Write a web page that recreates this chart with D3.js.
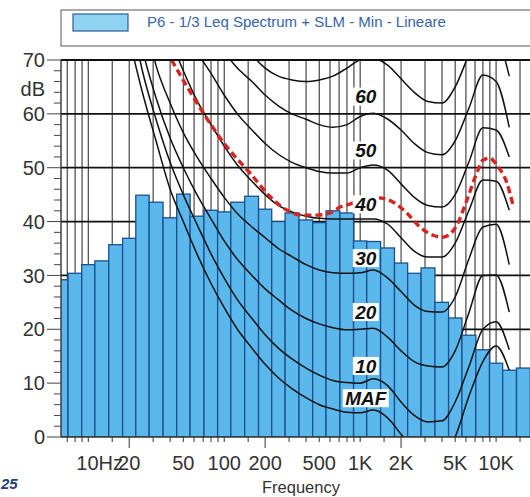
<!DOCTYPE html>
<meta charset="utf-8">
<style>
body { margin: 0; background: #fff; }
text { font-family: Arial, "Liberation Sans", sans-serif; }
</style>
<svg width="530" height="497"></svg>
<script src="https://d3js.org/d3.v7.min.js"></script>
<script>

// 1/3 octave bands (Hz) and measured Leq (dB)
var bands = [6.3, 8, 10, 12.5, 16, 20, 25, 31.5, 40, 50, 63, 80, 100, 125, 160, 200, 250, 315,
  400, 500, 630, 800, 1000, 1250, 1600, 2000, 2500, 3150, 4000, 5000, 6300, 8000, 10000, 12500, 16000, 20000];
var leq = [29.2, 30.4, 32.0, 32.7, 35.7, 36.9, 44.9, 43.6, 40.7, 45.1, 41.0, 42.1, 41.8, 43.6, 44.7, 42.3, 40.0, 41.6,
  40.3, 39.8, 42.0, 41.6, 36.4, 36.3, 35.1, 32.3, 30.4, 31.4, 25.0, 22.1, 18.9, 16.2, 13.7, 12.4, 12.8, 12.5];

// equal loudness contours
var isoFreq = [20, 25, 31.5, 40, 50, 63, 80, 100, 125, 160, 200, 250, 315, 400, 500, 630, 800, 1000,
  1250, 1600, 2000, 2500, 3150, 4000, 5000, 6300, 8000, 10000, 12500];
var contourNames = ["MAF", "10", "20", "30", "40", "50", "60", "70"];
var contourMAF = [74, 64, 55, 46, 40, 34, 28.5, 24, 20, 16.5, 13.5, 11, 9, 7.3, 6, 5.2, 4.6, 4.5, 5, 3.5, 0.5, -2.5, -4.5, -4, 0, 7.5, 14, 16.9, 12.4];
var contour10 = [80, 68, 59, 51, 45, 39.5, 34, 29.5, 25.5, 22, 19, 16.5, 14.5, 12.8, 11.5, 10.5, 10.1, 10, 10.8, 9.5, 6.5, 4, 2.8, 3, 6.5, 13, 20, 21.4, 16.2];
var contour20 = [84, 72, 63, 55.5, 50, 45, 40.5, 36.4, 33, 30, 27.5, 25.5, 23.5, 22, 21, 20.3, 19.9, 20, 20.2, 18.5, 16, 14, 13.2, 13, 16, 23, 30, 30.1, 23.2];
var contour30 = [90, 80, 69, 62, 56.5, 52, 48, 44.5, 41.5, 39, 37, 35, 33.5, 32, 31, 30.5, 30.4, 30.5, 31, 29.5, 27, 24.5, 23.3, 23.2, 26, 33, 39, 39.5, 32];
var contour40 = [96, 86, 80, 74, 68, 62.5, 58, 54, 50.5, 47.5, 45, 43, 41.8, 41, 40.6, 40.5, 40.5, 40.5, 40.5, 39.5, 37, 34.5, 33.4, 33.4, 36, 42, 47.7, 47.5, 42.1];
var contour50 = [102, 94, 87, 81, 76, 71.5, 67.5, 63.5, 60, 57, 54.5, 52.5, 51, 50, 49.3, 49, 49, 50, 50.5, 49.5, 47, 44.5, 43, 42.7, 45, 51, 57.4, 57, 52];
var contour60 = [108, 100, 94, 88, 83, 79, 75, 71.5, 68.5, 66, 63.5, 61.5, 60, 59, 58, 57.5, 58, 59.5, 60.1, 59, 57, 54.5, 52.8, 52.4, 55, 61, 67.2, 66, 57.5];
var contour70 = [115, 110, 104, 99, 94, 89.5, 84, 79, 75, 71, 68.5, 67, 66.3, 66, 66.3, 67, 68.5, 70, 70.3, 69, 66.5, 64, 62.3, 62, 65, 71, 77, 75, 67];

// red dashed curve
var redFreq = [41, 70, 105, 155, 218, 290, 380, 483, 600, 713, 850, 1000, 1150, 1350, 1750, 2200, 2750, 3400, 4050, 5000, 6100, 7200, 8000, 9000, 10100, 12000, 13300];
var redDb = [70, 60.2, 53.8, 49.0, 44.6, 42.1, 41.2, 41.2, 41.6, 42.7, 43.3, 43.9, 44.2, 44.4, 43.6, 41.6, 39.0, 37.5, 37.1, 38.8, 44.0, 49.0, 51.4, 51.8, 50.5, 47.2, 43.1];

var yTicks = [0, 10, 20, 30, 40, 50, 60, 70];
var xLabels = [[10, "10Hz"], [20, "20"], [50, "50"], [100, "100"], [200, "200"], [500, "500"],
  [1000, "1K"], [2000, "2K"], [5000, "5K"], [10000, "10K"]];

var svg = d3.select("svg");
var pLeft = 61, pTop = 60, pBottom = 437, pRight = 540;

var x = d3.scaleLog().domain([6.3, 20000]).range([61, 537]);
var y = d3.scaleLinear().domain([0, 70]).range([pBottom, pTop]);

svg.append("rect").attr("width", 530).attr("height", 497).attr("fill", "#fff");

svg.append("defs").append("clipPath").attr("id", "plot")
  .append("rect").attr("x", pLeft).attr("y", pTop).attr("width", pRight - pLeft).attr("height", pBottom - pTop);

var plot = svg.append("g").attr("clip-path", "url(#plot)");

// grid
var gridF = [];
[1, 10, 100, 1000, 10000].forEach(function(d) {
  [1, 1.5, 2, 3, 4, 5, 6, 7, 8, 9].forEach(function(m) {
    var f = d * m;
    if (f > 6.4 && f < 20000) gridF.push(f);
  });
});
plot.selectAll(".vg").data(gridF).enter().append("line")
  .attr("x1", function(d) { return x(d); }).attr("x2", function(d) { return x(d); })
  .attr("y1", pTop).attr("y2", pBottom)
  .attr("stroke", "#222").attr("stroke-width", 1);
plot.selectAll(".hg").data(yTicks.slice(1)).enter().append("line")
  .attr("x1", pLeft).attr("x2", pRight)
  .attr("y1", function(d) { return y(d); }).attr("y2", function(d) { return y(d); })
  .attr("stroke", "#111").attr("stroke-width", 1.8);

// bars
function bandLo(d, i) { return i ? Math.sqrt(bands[i - 1] * d) : d * d / Math.sqrt(d * bands[1]); }
function bandHi(d, i) { return i < bands.length - 1 ? Math.sqrt(d * bands[i + 1]) : d * d / bandLo(d, i); }
plot.selectAll(".bar").data(bands).enter().append("rect")
  .attr("x", function(d, i) { return x(bandLo(d, i)); })
  .attr("width", function(d, i) { return x(bandHi(d, i)) - x(bandLo(d, i)); })
  .attr("y", function(d, i) { return y(leq[i]); })
  .attr("height", function(d, i) { return pBottom - y(leq[i]); })
  .attr("fill", "#5ab8ec").attr("stroke", "#1c4f8c").attr("stroke-width", 1.3);

// contours
var contours = [contourMAF, contour10, contour20, contour30, contour40, contour50, contour60, contour70];
var line = d3.line()
  .x(function(d) { return x(d[0]); })
  .y(function(d) { return y(d[1]); })
  .curve(d3.curveMonotoneX);
contours.forEach(function(c) {
  plot.append("path")
    .attr("d", line(isoFreq.map(function(f, i) { return [f, c[i]]; })))
    .attr("fill", "none").attr("stroke", "#111").attr("stroke-width", 1.5);
});

plot.append("path")
  .attr("d", line(redFreq.map(function(f, i) { return [f, redDb[i]]; })))
  .attr("fill", "none").attr("stroke", "#d8231f").attr("stroke-width", 3.4)
  .attr("stroke-dasharray", "7,4");

// contour labels
contourNames.slice(0, 7).forEach(function(n, i) {
  var lv = i === 0 ? 4 : +n;
  var g = svg.append("g").attr("transform", "translate(" + x(1100) + "," + y(lv + 3.2) + ")");
  var w = n === "MAF" ? 46 : 26;
  g.append("rect").attr("x", -w / 2).attr("y", -9).attr("width", w).attr("height", 18).attr("fill", "#fff");
  g.append("text").attr("text-anchor", "middle").attr("dy", "0.36em")
    .attr("font-size", 19).attr("font-weight", "bold").attr("font-style", "italic")
    .attr("fill", "#111").text(n);
});

// frame
svg.append("line").attr("x1", pLeft).attr("x2", pRight).attr("y1", pTop).attr("y2", pTop)
  .attr("stroke", "#111").attr("stroke-width", 1.8);
svg.append("line").attr("x1", pLeft).attr("x2", pLeft).attr("y1", pTop).attr("y2", pBottom)
  .attr("stroke", "#333").attr("stroke-width", 1.4);
svg.append("line").attr("x1", pLeft).attr("x2", pRight).attr("y1", pBottom).attr("y2", pBottom)
  .attr("stroke", "#333").attr("stroke-width", 1.4);

// y axis ticks
d3.range(0, 71, 2).forEach(function(v) {
  var major = v % 10 === 0;
  svg.append("line").attr("x1", major ? 47 : 54).attr("x2", pLeft)
    .attr("y1", y(v)).attr("y2", y(v)).attr("stroke", "#444").attr("stroke-width", 1);
});
svg.selectAll(".yl").data(yTicks).enter().append("text")
  .attr("x", 45).attr("y", function(d) { return y(d); }).attr("dy", "0.36em")
  .attr("text-anchor", "end").attr("font-size", 20).attr("fill", "#333")
  .text(function(d) { return d; });
svg.append("text").attr("x", 45).attr("y", 96).attr("text-anchor", "end")
  .attr("font-size", 20).attr("fill", "#333").text("dB");

// x axis ticks
gridF.forEach(function(f) {
  var major = [20, 200, 2000].indexOf(f) >= 0;
  svg.append("line").attr("x1", x(f)).attr("x2", x(f))
    .attr("y1", pBottom).attr("y2", pBottom + (major ? 11 : 5))
    .attr("stroke", "#333").attr("stroke-width", 1);
});
svg.selectAll(".xl").data(xLabels).enter().append("text")
  .attr("x", function(d) { return d[1] === "10Hz" ? x(d[0]) - 12 : x(d[0]); })
  .attr("y", 470)
  .attr("text-anchor", function(d) { return d[1] === "10Hz" ? "start" : "middle"; })
  .attr("font-size", 20).attr("fill", "#333")
  .text(function(d) { return d[1]; });
svg.append("text").attr("x", 301).attr("y", 493).attr("text-anchor", "middle")
  .attr("font-size", 16.5).attr("fill", "#333").text("Frequency");

svg.append("text").attr("x", 1).attr("y", 489).attr("font-size", 15)
  .attr("font-weight", "bold").attr("font-style", "italic").attr("fill", "#23407a").text("25");

// legend
svg.append("rect").attr("x", 61).attr("y", 10).attr("width", 500).attr("height", 36)
  .attr("fill", "#fff").attr("stroke", "#555").attr("stroke-width", 1);
svg.append("rect").attr("x", 73).attr("y", 14).attr("width", 55).attr("height", 17)
  .attr("fill", "#8fd3f2").attr("stroke", "#2a5f94").attr("stroke-width", 1.2);
svg.append("text").attr("x", 147).attr("y", 27).attr("font-size", 15).attr("fill", "#3764a8")
  .text("P6 - 1/3 Leq Spectrum + SLM - Min - Lineare");

</script>
